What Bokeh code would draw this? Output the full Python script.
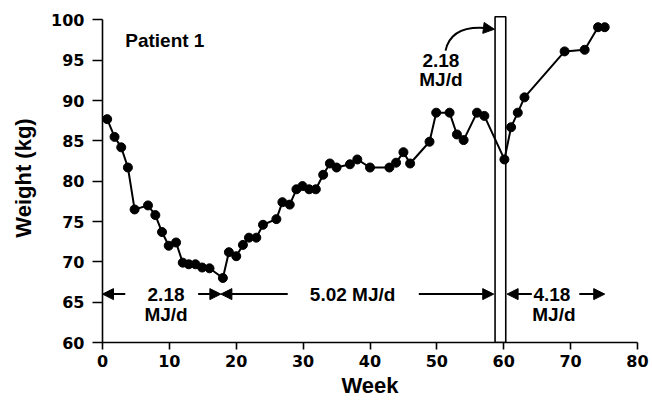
from bokeh.plotting import figure
from bokeh.models import Range1d, FixedTicker, Arrow, NormalHead, Label
from bokeh.embed import file_html
from bokeh.resources import INLINE

# ---- data ----
weeks = [0.7, 1.8, 2.8, 3.8, 4.8, 6.8, 7.9, 8.9, 9.9, 11.0, 12.0, 12.9, 13.9, 14.9,
         16.0, 18.0, 18.9, 20.0, 21.0, 21.9, 23.0, 24.0, 26.0, 26.9, 28.0, 29.0,
         29.9, 30.9, 31.9, 33.0, 34.0, 35.0, 37.0, 38.1, 40.0, 42.9, 43.9, 45.0,
         46.0, 48.9, 49.9, 51.9, 53.0, 54.0, 56.0, 57.1, 60.1, 61.1, 62.1, 63.1,
         69.1, 72.1, 74.1, 75.1]
weights = [87.7, 85.5, 84.2, 81.7, 76.5, 77.0, 75.8, 73.7, 72.0, 72.4, 69.9, 69.7,
           69.7, 69.3, 69.2, 68.0, 71.2, 70.7, 72.1, 73.0, 73.0, 74.6, 75.3, 77.4,
           77.1, 79.0, 79.4, 79.0, 79.0, 80.8, 82.2, 81.7, 82.1, 82.7, 81.7, 81.7,
           82.3, 83.6, 82.2, 84.9, 88.5, 88.5, 85.8, 85.1, 88.5, 88.1, 82.7, 86.7,
           88.5, 90.4, 96.1, 96.3, 99.1, 99.1]

x_ticks = [0, 10, 20, 30, 40, 50, 60, 70, 80]
y_ticks = [60, 65, 70, 75, 80, 85, 90, 95, 100]

# short 2.18 MJ/d interval (weeks)
bar_left = [58.7]
bar_right = [60.3]

# energy-intake periods: (start week, end week)
period_labels = ["2.18", "5.02 MJ/d", "4.18"]

p = figure(width=652, height=400, x_range=Range1d(0, 80), y_range=Range1d(60, 100.8),
           output_backend="svg", toolbar_location=None,
           min_border_left=102, min_border_right=15, min_border_top=13, min_border_bottom=56)
p.outline_line_color = None
p.xgrid.visible = False
p.ygrid.visible = False
p.background_fill_color = "white"
p.border_fill_color = "white"

tick_font = "DejaVu Sans"
txt_font = "Liberation Sans"

for ax in (p.xaxis[0], p.yaxis[0]):
    ax.axis_line_width = 1.6
    ax.axis_line_color = "black"
    ax.major_tick_line_color = "black"
    ax.major_tick_line_width = 1.6
    ax.major_tick_in = 0
    ax.minor_tick_line_color = None
    ax.major_label_text_font = tick_font
    ax.major_label_text_font_style = "bold"
    ax.major_label_text_font_size = "16px"
    ax.major_label_text_color = "black"
    ax.axis_label_text_font = txt_font
    ax.axis_label_text_font_style = "bold"
    ax.axis_label_text_font_size = "22px"
    ax.axis_label_text_color = "black"

p.xaxis.ticker = FixedTicker(ticks=x_ticks)
p.yaxis.ticker = FixedTicker(ticks=y_ticks)
p.yaxis.bounds = (60, 100)
p.xaxis.major_tick_out = 7
p.yaxis.major_tick_out = 10
p.xaxis.major_label_standoff = 5
p.yaxis.major_label_standoff = 8
p.xaxis.axis_label = "Week"
p.yaxis.axis_label = "Weight (kg)"
p.xaxis.axis_label_standoff = 3
p.yaxis.axis_label_standoff = 12

# bar for the 2.18 MJ/d interval
p.quad(left=bar_left, right=bar_right, bottom=[60], top=[100.4],
       fill_color="white", line_color="black", line_width=1.6)

# weight series
p.line(weeks, weights, line_color="black", line_width=2)
p.scatter(weeks, weights, size=9, fill_color="black", line_color="black")

def arrow(x0, x1, y=66.0, size=11):
    p.add_layout(Arrow(end=NormalHead(size=size, fill_color="black", line_color="black", line_width=1),
                       x_start=x0, y_start=y, x_end=x1, y_end=y,
                       line_color="black", line_width=2))

arrow(3.4, 0.0)
arrow(14.3, 17.7)
arrow(27.7, 17.7)
arrow(47.3, 58.5)
arrow(64.2, 60.5)
arrow(71.3, 75.1)

# curved arrow to the bar
p.quadratic(x0=[51.3], y0=[96.2], x1=[58.3], y1=[98.9], cx=[52.2], cy=[99.6],
            line_color="black", line_width=2)
p.add_layout(Arrow(end=NormalHead(size=11, fill_color="black", line_color="black", line_width=1),
                   x_start=57.1, y_start=99.0, x_end=58.6, y_end=98.85,
                   line_color="black", line_width=2))

def lab(x, y, t, align="center", size="19px"):
    p.add_layout(Label(x=x, y=y, text=t, text_font=txt_font, text_font_style="bold",
                       text_font_size=size, text_align=align, text_baseline="middle",
                       text_color="black"))

lab(3.4, 97.5, "Patient 1", align="left", size="19px")
lab(9.5, 66.0, "2.18")
lab(9.5, 63.5, "MJ/d")
lab(37.4, 66.0, "5.02 MJ/d")
lab(67.2, 66.0, "4.18")
lab(67.5, 63.5, "MJ/d")
lab(50.6, 95.0, "2.18")
lab(50.6, 92.6, "MJ/d")

open("out.html", "w").write(file_html(p, INLINE))
